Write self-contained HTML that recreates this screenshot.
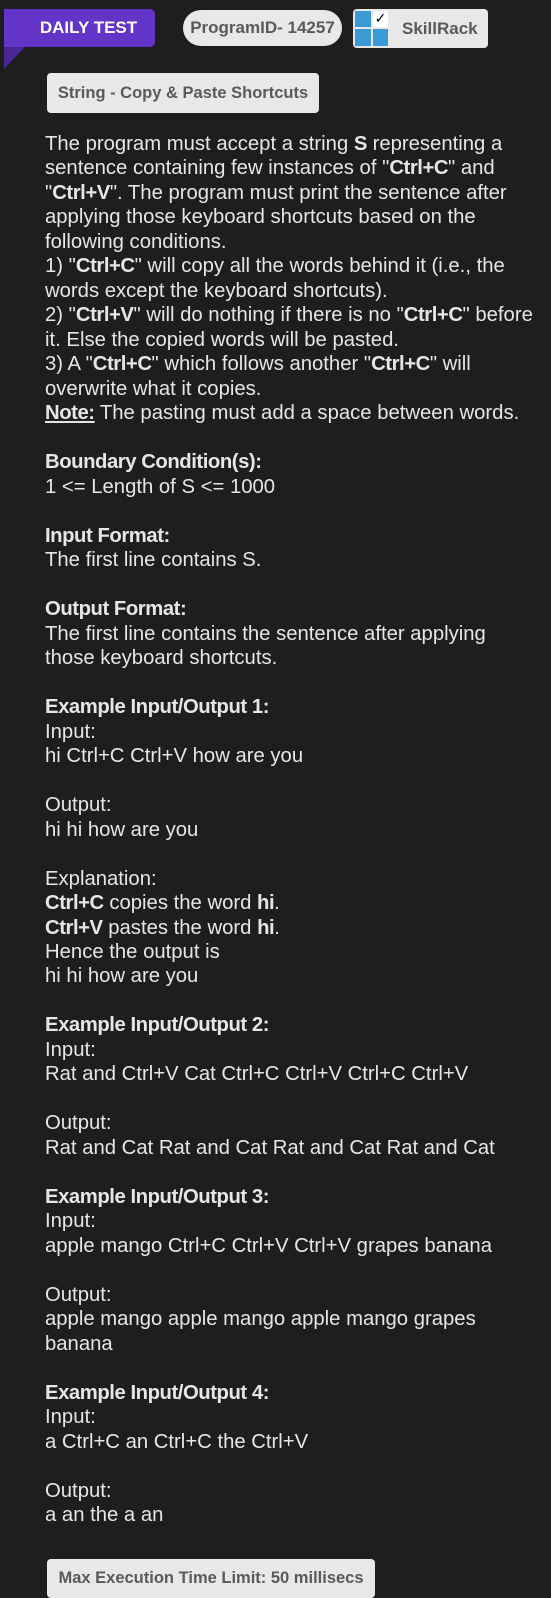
<!DOCTYPE html>
<html><head><meta charset="utf-8"><style>
html,body{margin:0;padding:0;}
body{width:551px;height:1598px;background:#1e1e1e;position:relative;overflow:hidden;font-family:"Liberation Sans",Arial,sans-serif;}
.abs{position:absolute;box-sizing:border-box;}
.chip{background:#e8e8e8;color:#5a5a5a;font-weight:bold;font-size:16px;display:flex;align-items:center;justify-content:center;white-space:nowrap;}
#txt{position:absolute;left:45px;top:132px;color:#e6e6e6;font-size:20.3px;line-height:24.48px;white-space:pre;}
#txt b{font-weight:bold;letter-spacing:-0.45px;}
</style></head><body>
<div class="abs" style="left:4px;top:47px;width:0;height:0;border-left:21px solid #4b2596;border-bottom:22px solid transparent;"></div>
<div class="abs chip" style="left:4px;top:9px;width:151px;height:38px;background:#6434c8;color:#fff;border-radius:0 5px 5px 0;font-size:17px;padding-left:18px;">DAILY TEST</div>
<div class="abs chip" style="left:183px;top:10px;width:159px;height:36px;border-radius:18px;font-size:17px;">ProgramID- 14257</div>
<div class="abs chip" style="left:353px;top:9px;width:135px;height:39px;border-radius:4px;justify-content:flex-start;padding-left:49px;font-size:17px;">SkillRack</div>
<div class="abs" style="left:355px;top:11px;width:16px;height:16px;background:#3a9ad6"></div>
<div class="abs" style="left:373px;top:11px;width:15px;height:16px;background:#fff;font-size:14px;line-height:14px;color:#000;text-align:center;">✓</div>
<div class="abs" style="left:355px;top:29px;width:16px;height:17px;background:#3a9ad6"></div>
<div class="abs" style="left:373px;top:29px;width:15px;height:17px;background:#3a9ad6"></div>
<div class="abs chip" style="left:47px;top:73px;width:272px;height:40px;border-radius:4px;font-size:16.5px;">String - Copy &amp; Paste Shortcuts</div>
<div id="txt">The program must accept a string <b>S</b> representing a
sentence containing few instances of "<b>Ctrl+C</b>" and
"<b>Ctrl+V</b>". The program must print the sentence after
applying those keyboard shortcuts based on the
following conditions.
1) "<b>Ctrl+C</b>" will copy all the words behind it (i.e., the
words except the keyboard shortcuts).
2) "<b>Ctrl+V</b>" will do nothing if there is no "<b>Ctrl+C</b>" before
it. Else the copied words will be pasted.
3) A "<b>Ctrl+C</b>" which follows another "<b>Ctrl+C</b>" will
overwrite what it copies.
<b><u>Note:</u></b> The pasting must add a space between words.

<b>Boundary Condition(s):</b>
1 &lt;= Length of S &lt;= 1000

<b>Input Format:</b>
The first line contains S.

<b>Output Format:</b>
The first line contains the sentence after applying
those keyboard shortcuts.

<b>Example Input/Output 1:</b>
Input:
hi Ctrl+C Ctrl+V how are you

Output:
hi hi how are you

Explanation:
<b>Ctrl+C</b> copies the word <b>hi</b>.
<b>Ctrl+V</b> pastes the word <b>hi</b>.
Hence the output is
hi hi how are you

<b>Example Input/Output 2:</b>
Input:
Rat and Ctrl+V Cat Ctrl+C Ctrl+V Ctrl+C Ctrl+V

Output:
Rat and Cat Rat and Cat Rat and Cat Rat and Cat

<b>Example Input/Output 3:</b>
Input:
apple mango Ctrl+C Ctrl+V Ctrl+V grapes banana

Output:
apple mango apple mango apple mango grapes
banana

<b>Example Input/Output 4:</b>
Input:
a Ctrl+C an Ctrl+C the Ctrl+V

Output:
a an the a an</div>
<div class="abs chip" style="left:47px;top:1559px;width:328px;height:39px;border-radius:4px;font-size:16.5px;">Max Execution Time Limit: 50 millisecs</div>
</body></html>
